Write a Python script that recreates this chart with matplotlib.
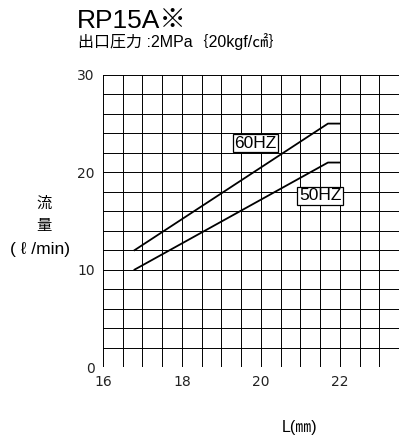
import numpy as np
import matplotlib
matplotlib.use("Agg")
import matplotlib.pyplot as plt

plt.rcParams['font.family'] = ['Liberation Sans', 'Noto Sans CJK JP', 'DejaVu Sans']

# stroke length L (mm) vs discharge flow (l/min)
L_60 = [16.8, 21.7, 22.0]
Q_60 = [12, 25, 25]
L_50 = [16.8, 21.7, 22.0]
Q_50 = [10, 21, 21]

x_ticks = [16, 18, 20, 22]
y_ticks = [0, 10, 20, 30]

fig = plt.figure(figsize=(3.99, 4.38), dpi=100)
ax = fig.add_axes([0.258, 0.162, 0.742, 0.667])

ax.set_xlim(16, 23.5)
ax.set_ylim(0, 30)

# fine grid: 0.5 mm by 2 l/min
for gx in np.arange(16, 23.51, 0.5):
    ax.axvline(gx, color='black', lw=0.7, zorder=1)
for gy in np.arange(0, 30.1, 2):
    ax.axhline(gy, color='black', lw=0.7, zorder=1)

ax.plot(L_60, Q_60, color='black', lw=1.3, zorder=3)
ax.plot(L_50, Q_50, color='black', lw=1.3, zorder=3)

box = dict(boxstyle='square,pad=0.08', fc='white', ec='black', lw=0.9)
ax.text(19.86, 23.0, '60HZ', ha='center', va='center', fontsize=12.5,
        bbox=box, zorder=4)
ax.text(21.5, 17.6, '50HZ', ha='center', va='center', fontsize=12.5,
        bbox=box, zorder=4)

for s in ax.spines.values():
    s.set_visible(False)

ax.set_xticks(x_ticks)
ax.set_yticks(y_ticks)
ax.set_xticklabels([str(v) for v in x_ticks], fontsize=10, color='#222222',
                   family=['DejaVu Sans'])
ax.set_yticklabels([str(v) for v in y_ticks], fontsize=10, color='#222222',
                   family=['DejaVu Sans'])
ax.tick_params(length=0, pad=6)

fig.text(0.193, 0.935, 'RP15A※', fontsize=19, ha='left', va='baseline')
fig.text(0.195, 0.892, '出口圧力 :2MPa｛20kgf/㎠｝', fontsize=11.5, ha='left',
         va='baseline')

fig.text(0.11, 0.535, '流', fontsize=11, ha='center', va='center')
fig.text(0.11, 0.483, '量', fontsize=11, ha='center', va='center')
fig.text(0.10, 0.43, '( ℓ /min)', fontsize=12.5, ha='center', va='center',
         family=['Liberation Sans', 'DejaVu Sans'])

fig.text(0.752, 0.025, 'L(㎜)', fontsize=11.5, ha='center', va='center')

fig.savefig('out.png', dpi=100)
